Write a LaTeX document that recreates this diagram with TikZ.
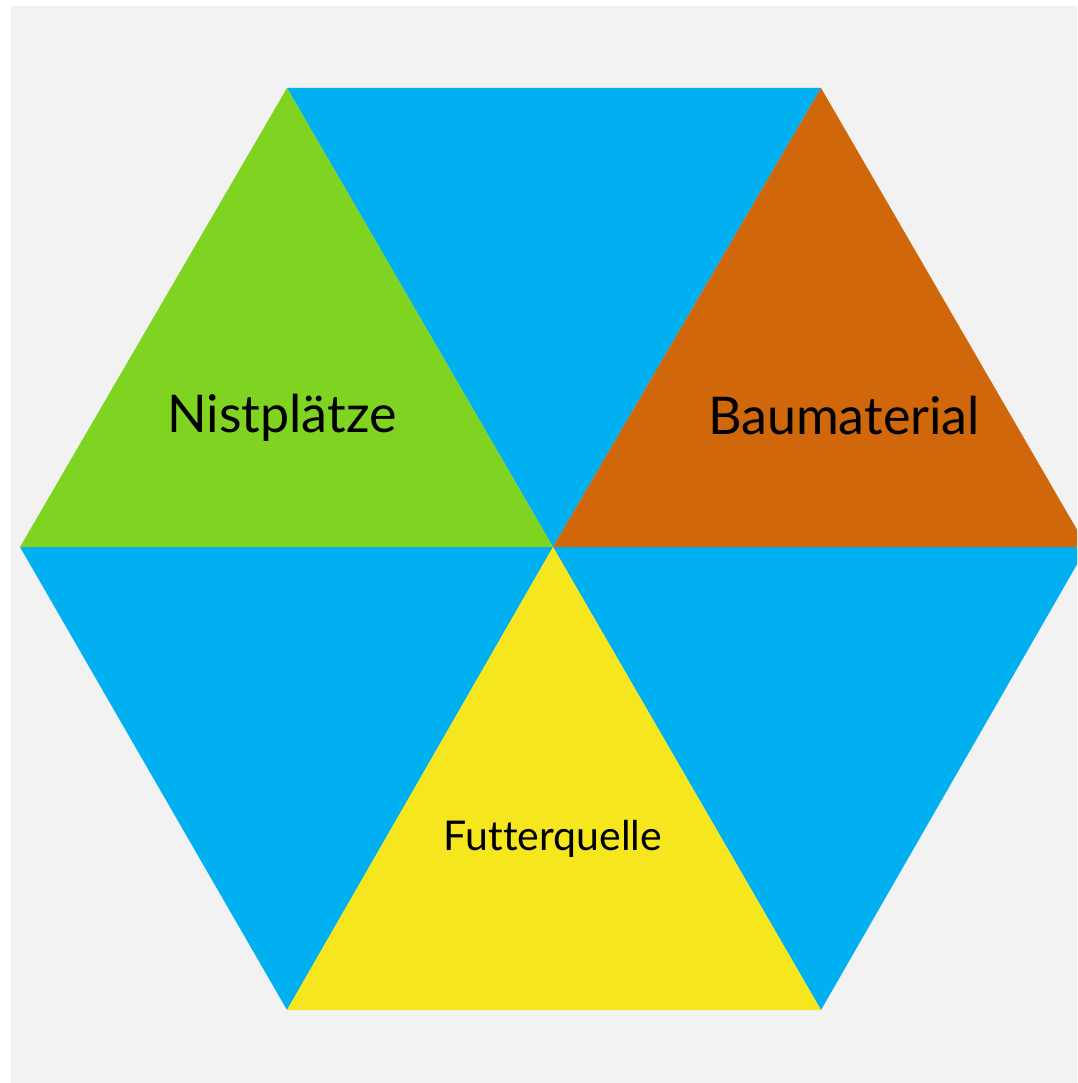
\documentclass[tikz,border=0pt]{standalone}
\usepackage{fontspec}
\setmainfont[Ligatures=CommonOff]{Lato}
\usepackage{tikz}
\usetikzlibrary{positioning}

\definecolor{hexblue}{HTML}{00B0F0}
\definecolor{hexgreen}{HTML}{7FD321}
\definecolor{hexorange}{HTML}{D0680B}
\definecolor{hexyellow}{HTML}{F5E61E}
\definecolor{backgray}{HTML}{F2F2F2}

\begin{document}
\begin{tikzpicture} [x=1pt, y=-1pt,
        piece/.style = {fill=#1, draw=none},
        bigtext/.style = {font=\fontsize{52}{60}\selectfont, text=black, anchor=base, inner sep=0pt},
        smalltext/.style = {font=\fontsize{41}{48}\selectfont, text=black, anchor=base, inner sep=0pt}]
        \useasboundingbox[fill=white] (0,0) rectangle (1077,1083);
        \fill[backgray] (11,6) rectangle (1077,1083);
        \clip (0,0) rectangle (1077,1083);

        % corners of the hexagon
        \coordinate (c)  at (553,547);
        \coordinate (tl) at (287,88);
        \coordinate (tr) at (821,88);
        \coordinate (l)  at (20,547);
        \coordinate (r)  at (1087,547);
        \coordinate (bl) at (287,1010);
        \coordinate (br) at (821,1010);

        \fill[piece=hexblue] (tl) -- (tr) -- (c) -- cycle;
        \fill[piece=hexblue] (l) -- (c) -- (bl) -- cycle;
        \fill[piece=hexblue] (c) -- (r) -- (br) -- cycle;
        \fill[piece=hexgreen] (tl) -- (l) -- (c) -- cycle;
        \fill[piece=hexorange] (tr) -- (c) -- (r) -- cycle;
        \fill[piece=hexyellow] (c) -- (bl) -- (br) -- cycle;

        \node (nest) [bigtext] at (282,432) {Nistplätze};
        \node (bau) [bigtext] at (844,434) {Baumaterial};
        \node (futter) [smalltext] at (553,850) {Futterquelle};
    \end{tikzpicture}
\end{document}
